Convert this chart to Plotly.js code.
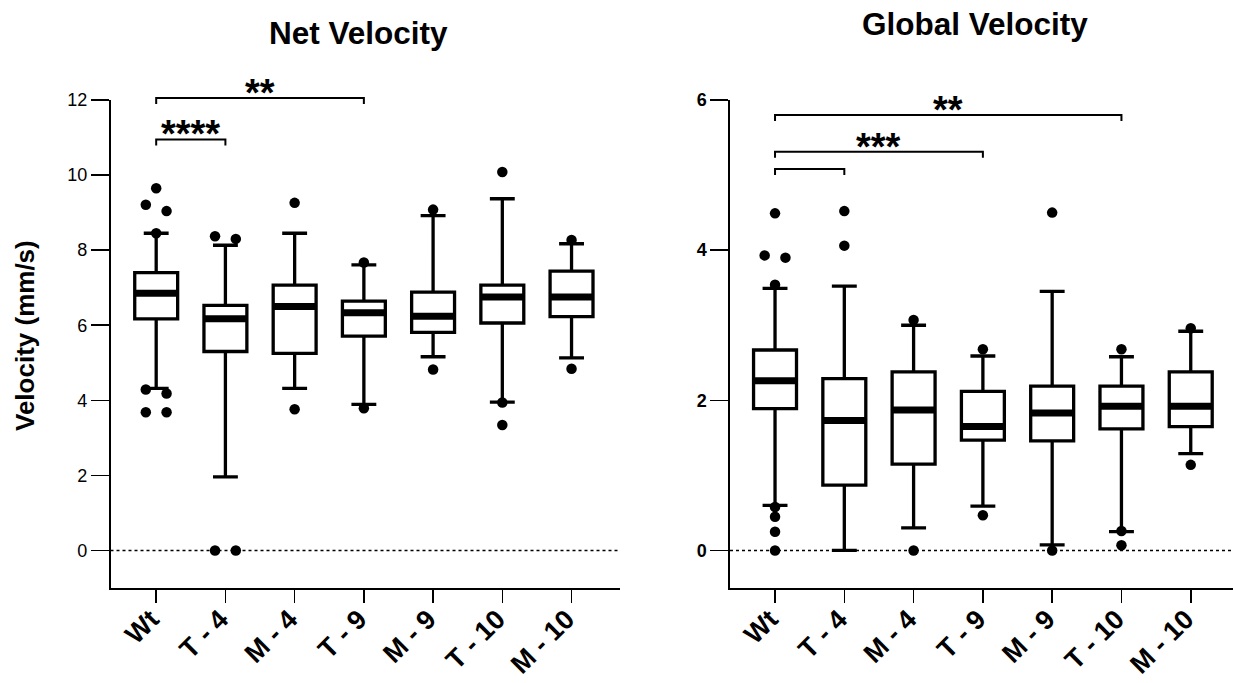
<!DOCTYPE html>
<html><head><meta charset="utf-8">
<script src="https://cdn.plot.ly/plotly-3.0.1.min.js"></script>
<style>html,body{margin:0;padding:0;background:#fff}#chart{width:1233px;height:683px}</style>
</head><body><div id="chart"></div>
<script>
// ---------- data ----------
const categories = ["Wt", "T - 4", "M - 4", "T - 9", "M - 9", "T - 10", "M - 10"];

// Net Velocity (mm/s)
const netQ1     = [6.17, 5.30, 5.25, 5.71, 5.81, 6.06, 6.23];
const netMedian = [6.85, 6.17, 6.50, 6.33, 6.24, 6.75, 6.75];
const netQ3     = [7.40, 6.53, 7.07, 6.64, 6.88, 7.07, 7.44];
const netLow    = [4.32, 1.96, 4.32, 3.89, 5.16, 3.95, 5.13];
const netHigh   = [8.45, 8.13, 8.45, 7.61, 8.92, 9.37, 8.17];
const netPoints = [
  [9.65, 9.21, 9.04, 8.45, 4.29, 4.18, 3.68, 3.68],
  [8.37, 8.30, 0, 0],
  [9.26, 3.76],
  [7.67, 3.79],
  [9.08, 4.82],
  [10.08, 3.94, 3.34],
  [8.27, 4.84]
];
const netBracketFrom  = [0, 0];
const netBracketTo    = [3, 1];
const netBracketLevel = [12.05, 10.95];
const netBracketLabel = ["**", "****"];

// Global Velocity (mm/s)
const globQ1     = [1.89, 0.87, 1.15, 1.47, 1.46, 1.62, 1.65];
const globMedian = [2.26, 1.73, 1.87, 1.65, 1.83, 1.92, 1.92];
const globQ3     = [2.67, 2.29, 2.38, 2.12, 2.19, 2.19, 2.38];
const globLow    = [0.60, 0.00, 0.30, 0.59, 0.075, 0.25, 1.29];
const globHigh   = [3.49, 3.52, 3.00, 2.59, 3.45, 2.58, 2.92];
const globPoints = [
  [4.49, 3.93, 3.90, 3.54, 0.58, 0.45, 0.25, 0],
  [4.52, 4.06],
  [3.07, 0],
  [2.68, 0.47],
  [4.50, 0],
  [2.68, 0.26, 0.07],
  [2.96, 1.14]
];
const globBracketFrom  = [0, 0, 0];
const globBracketTo    = [5, 3, 1];
const globBracketLevel = [5.80, 5.31, 5.08];
const globBracketLabel = ["**", "***", ""];

// ---------- layout constants ----------
const W = 1233, H = 683;
const FONT = "Liberation Sans, Arial, Helvetica, sans-serif";
const yTopPx = 100, yBotPx = 588;
const leftX = [110.5, 620], rightX = [730, 1233];
const netRangeY = [-1, 12], globRangeY = [-0.5, 6];
const netRangeX = [-0.66, 6.70], globRangeX = [-0.65, 6.61];
const boxW = 0.62;
const idx = categories.map((_, i) => i);
const yDomain = [1 - yBotPx / H, 1 - yTopPx / H];

function pxPerUnit(range) { return (yBotPx - yTopPx) / (range[1] - range[0]); }
// taller invisible axis with the same scale, so brackets above the top tick are not clipped
function tallRange(range) { return [range[0], range[0] + yBotPx / pxPerUnit(range)]; }

function dodgePoints(points, ppu) {
  const xs = [], ys = [];
  points.forEach((vals, g) => {
    const sorted = vals.slice().sort((a, b) => b - a);
    let cluster = [];
    const flush = () => {
      const n = cluster.length;
      cluster.forEach((v, k) => { xs.push(g + (k - (n - 1) / 2) * 0.3); ys.push(v); });
      cluster = [];
    };
    sorted.forEach(v => {
      if (cluster.length && (cluster[cluster.length - 1] - v) * ppu >= 8) flush();
      cluster.push(v);
    });
    flush();
  });
  return { xs, ys };
}

function medianLines(med) {
  const xs = [], ys = [];
  med.forEach((m, i) => { xs.push(i - boxW / 2 + 0.01, i + boxW / 2 - 0.01, null); ys.push(m, m, null); });
  return { xs, ys };
}

function bracketTraces(from, to, level, labels, range, xa, ya, annots) {
  const xs = [], ys = [];
  const drop = 6 / pxPerUnit(range);
  from.forEach((f, i) => {
    const t = to[i], L = level[i];
    xs.push(f, f, t, t, null);
    ys.push(L - drop, L, L, L - drop, null);
    if (labels[i]) {
      annots.push({
        xref: xa, yref: ya, x: (f + t) / 2, y: L, yanchor: "middle", yshift: 5,
        text: labels[i], showarrow: false,
        font: { family: FONT, size: 38, color: "#000", weight: "bold" }
      });
    }
  });
  return { type: "scatter", mode: "lines", x: xs, y: ys, xaxis: xa, yaxis: ya,
           line: { color: "#000", width: 2 }, hoverinfo: "skip", showlegend: false };
}

function panel(q1, med, q3, lo, hi, pts, range, xa, ya, yTall, bf, bt, bl, blab, annots) {
  const ppu = pxPerUnit(range);
  const box = {
    type: "box", x: idx, q1: q1, median: med, q3: q3, lowerfence: lo, upperfence: hi,
    xaxis: xa, yaxis: ya, width: boxW, whiskerwidth: 0.58, boxpoints: false,
    fillcolor: "#fff", line: { color: "#000", width: 3.3 }, showlegend: false, hoverinfo: "skip"
  };
  const ml = medianLines(med);
  const medTrace = { type: "scatter", mode: "lines", x: ml.xs, y: ml.ys, xaxis: xa, yaxis: ya,
    line: { color: "#000", width: 7 }, showlegend: false, hoverinfo: "skip" };
  const d = dodgePoints(pts, ppu);
  const dots = { type: "scatter", mode: "markers", x: d.xs, y: d.ys, xaxis: xa, yaxis: ya, cliponaxis: false,
    marker: { color: "#000", size: 10.5 }, showlegend: false, hoverinfo: "skip" };
  const br = bracketTraces(bf, bt, bl, blab, range, xa, yTall, annots);
  return [box, medTrace, dots, br];
}

const annotations = [];
const data = [].concat(
  panel(netQ1, netMedian, netQ3, netLow, netHigh, netPoints, netRangeY, "x", "y", "y3",
        netBracketFrom, netBracketTo, netBracketLevel, netBracketLabel, annotations),
  panel(globQ1, globMedian, globQ3, globLow, globHigh, globPoints, globRangeY, "x2", "y2", "y4",
        globBracketFrom, globBracketTo, globBracketLevel, globBracketLabel, annotations)
);

annotations.push(
  { xref: "paper", yref: "paper", x: 358 / W, y: 1 - 33 / H, xanchor: "center", yanchor: "middle",
    text: "Net Velocity", showarrow: false, font: { family: FONT, size: 31.5, color: "#000", weight: "bold" } },
  { xref: "paper", yref: "paper", x: 975 / W, y: 1 - 24 / H, xanchor: "center", yanchor: "middle",
    text: "Global Velocity", showarrow: false, font: { family: FONT, size: 31.5, color: "#000", weight: "bold" } },
  { xref: "paper", yref: "paper", x: 25 / W, y: 1 - 336 / H, xanchor: "center", yanchor: "middle",
    text: "Velocity (mm/s)", textangle: -90, showarrow: false,
    font: { family: FONT, size: 26, color: "#000", weight: "bold" } }
);

function xAxis(dom, range, anchor) {
  return { domain: [dom[0] / W, dom[1] / W], range: range, anchor: anchor,
    tickmode: "array", tickvals: idx, ticktext: categories, tickangle: -45,
    ticks: "outside", ticklen: 13, tickwidth: 1.6, tickcolor: "#000",
    ticklabelstandoff: -10, ticklabelshift: -5,
    showline: true, linewidth: 1.6, linecolor: "#000", showgrid: false, zeroline: false,
    tickfont: { family: FONT, size: 27, color: "#000", weight: "bold" } };
}
function yAxis(range, anchor, dtick, bold) {
  return { domain: yDomain, range: range, anchor: anchor, tickmode: "linear", tick0: 0, dtick: dtick,
    ticks: "outside", ticklen: 18, tickwidth: 1.6, tickcolor: "#000",
    showline: true, linewidth: 1.6, linecolor: "#000", showgrid: false, zeroline: false,
    tickfont: { family: FONT, size: 18, color: "#000", weight: bold ? "bold" : "normal" } };
}
function tallAxis(range, anchor) {
  return { domain: [yDomain[0], 1], range: tallRange(range), anchor: anchor, visible: false,
    showgrid: false, zeroline: false };
}

const layout = {
  width: W, height: H, margin: { l: 0, r: 0, t: 0, b: 0 },
  paper_bgcolor: "#fff", plot_bgcolor: "rgba(0,0,0,0)", showlegend: false,
  font: { family: FONT, color: "#000" },
  xaxis: xAxis(leftX, netRangeX, "y"),
  yaxis: yAxis(netRangeY, "x", 2, false),
  xaxis2: xAxis(rightX, globRangeX, "y2"),
  yaxis2: yAxis(globRangeY, "x2", 2, true),
  yaxis3: tallAxis(netRangeY, "x"),
  yaxis4: tallAxis(globRangeY, "x2"),
  annotations: annotations,
  shapes: [
    { type: "line", xref: "x domain", yref: "y", x0: 0, x1: 1, y0: 0, y1: 0,
      line: { color: "#000", width: 1.5, dash: "dot" }, layer: "below" },
    { type: "line", xref: "x2 domain", yref: "y2", x0: 0, x1: 1, y0: 0, y1: 0,
      line: { color: "#000", width: 1.5, dash: "dot" }, layer: "below" }
  ]
};

Plotly.newPlot("chart", data, layout, { staticPlot: true, displayModeBar: false });
</script>
</body></html>
